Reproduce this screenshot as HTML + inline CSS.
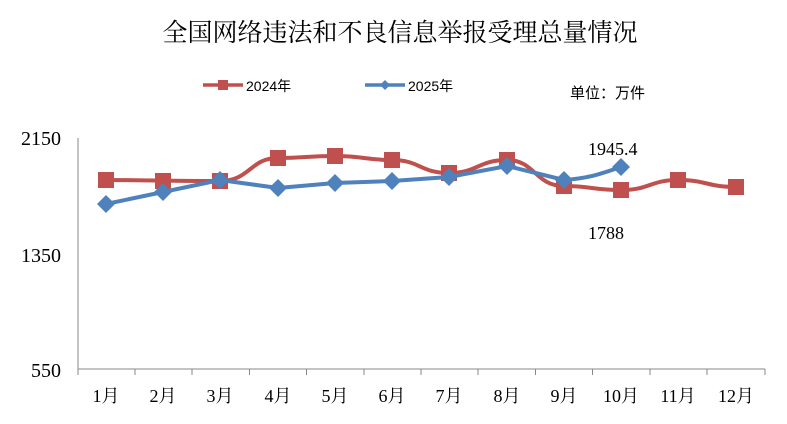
<!DOCTYPE html><html><head><meta charset="utf-8"><style>body{margin:0;background:#fff}svg text{font-family:"Liberation Serif","Noto Serif CJK SC",serif}</style></head><body>
<svg width="787" height="419" xmlns="http://www.w3.org/2000/svg">
<text x="400" y="41" font-size="25" text-anchor="middle" style="font-family:'Noto Serif CJK SC',serif">全国网络违法和不良信息举报受理总量情况</text>
<line x1="203" y1="85" x2="243" y2="85" stroke="#C0504D" stroke-width="3.5"/><rect x="218" y="80" width="10" height="10" fill="#C0504D"/>
<text x="246" y="91" font-size="14" style="font-family:'Liberation Sans','Noto Sans CJK SC',sans-serif">2024年</text>
<line x1="365" y1="85" x2="405" y2="85" stroke="#4F81BD" stroke-width="3.5"/><polygon points="385,80 390,85 385,90 380,85" fill="#4F81BD"/>
<text x="408" y="91" font-size="14" style="font-family:'Liberation Sans','Noto Sans CJK SC',sans-serif">2025年</text>
<text x="570" y="98" font-size="15" style="font-family:'Noto Sans CJK SC',sans-serif">单位：万件</text>
<g font-size="20" text-anchor="end"><text x="61" y="145">2150</text><text x="61" y="262">1350</text><text x="61" y="377">550</text></g>
<line x1="78" y1="138" x2="78" y2="375" stroke="#888"/>
<line x1="78" y1="369" x2="765" y2="369" stroke="#888"/>
<g stroke="#888"><line x1="135" y1="369" x2="135" y2="375"/><line x1="192" y1="369" x2="192" y2="375"/><line x1="249.5" y1="369" x2="249.5" y2="375"/><line x1="306.5" y1="369" x2="306.5" y2="375"/><line x1="364" y1="369" x2="364" y2="375"/><line x1="421" y1="369" x2="421" y2="375"/><line x1="478" y1="369" x2="478" y2="375"/><line x1="535.5" y1="369" x2="535.5" y2="375"/><line x1="592.5" y1="369" x2="592.5" y2="375"/><line x1="650" y1="369" x2="650" y2="375"/><line x1="707" y1="369" x2="707" y2="375"/><line x1="765" y1="369" x2="765" y2="375"/></g>
<g font-size="18" text-anchor="middle"><text x="106" y="402">1月</text><text x="163" y="402">2月</text><text x="220" y="402">3月</text><text x="278" y="402">4月</text><text x="335" y="402">5月</text><text x="392" y="402">6月</text><text x="449" y="402">7月</text><text x="507" y="402">8月</text><text x="564" y="402">9月</text><text x="621" y="402">10月</text><text x="678" y="402">11月</text><text x="736" y="402">12月</text></g>
<path d="M106,180 C135,180 163,181 220,181 C250,181 250,158 278,158 C306,158 306,156 335,156 C364,156 364,160 392,160 C420,160 420,173 449,173 C478,173 478,160 507,160 C535,160 535,186 564,186 C592,186 592,190 621,190 C650,190 650,180 678,180 C707,180 707,187 736,187" fill="none" stroke="#C0504D" stroke-width="4"/>
<g fill="#C0504D"><rect x="98" y="172" width="16" height="16"/><rect x="155" y="173" width="16" height="16"/><rect x="212" y="173" width="16" height="16"/><rect x="270" y="150" width="16" height="16"/><rect x="327" y="148" width="16" height="16"/><rect x="384" y="152" width="16" height="16"/><rect x="441" y="165" width="16" height="16"/><rect x="499" y="152" width="16" height="16"/><rect x="556" y="178" width="16" height="16"/><rect x="613" y="182" width="16" height="16"/><rect x="670" y="172" width="16" height="16"/><rect x="728" y="179" width="16" height="16"/></g>
<path d="M106,204 L163,192 L220,180 L278,188 L335,183 L392,181 L449,177 L507,166 L564,180 C590,178 600,174 621,167" fill="none" stroke="#4F81BD" stroke-width="4"/>
<g fill="#4F81BD"><polygon points="106,195 115,204 106,213 97,204"/><polygon points="163,183 172,192 163,201 154,192"/><polygon points="220,171 229,180 220,189 211,180"/><polygon points="278,179 287,188 278,197 269,188"/><polygon points="335,174 344,183 335,192 326,183"/><polygon points="392,172 401,181 392,190 383,181"/><polygon points="449,168 458,177 449,186 440,177"/><polygon points="507,157 516,166 507,175 498,166"/><polygon points="564,171 573,180 564,189 555,180"/><polygon points="621,158 630,167 621,176 612,167"/></g>
<text x="588" y="155" font-size="18">1945.4</text>
<text x="588" y="239" font-size="18">1788</text>
</svg></body></html>
